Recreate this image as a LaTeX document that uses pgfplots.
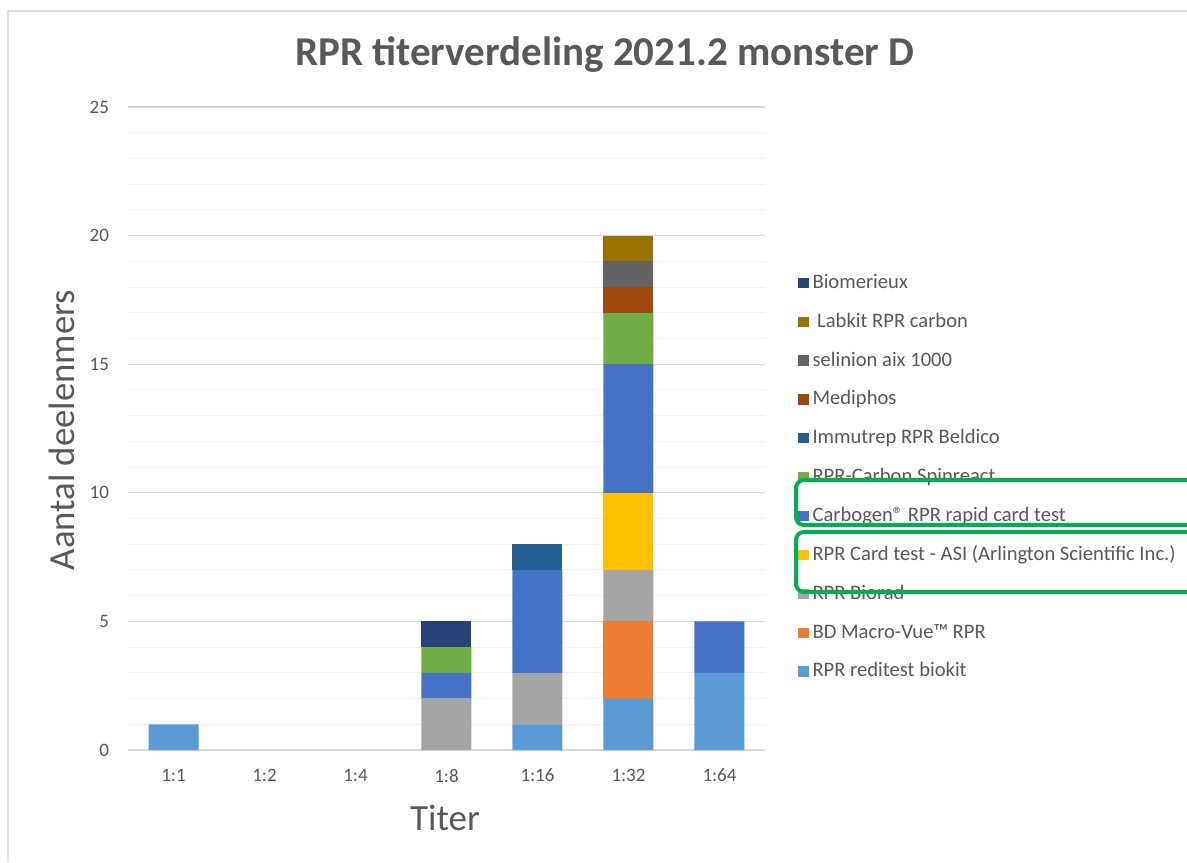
\documentclass[border=0pt]{standalone}
\usepackage{pgfplots}
\pgfplotsset{compat=1.18}
\usepackage{fontspec}
\setmainfont{Carlito}
\definecolor{cReditest}{HTML}{5B9BD5}
\definecolor{cBD}{HTML}{ED7D31}
\definecolor{cBiorad}{HTML}{A5A5A5}
\definecolor{cASI}{HTML}{FFC000}
\definecolor{cCarbogen}{HTML}{4472C4}
\definecolor{cSpin}{HTML}{70AD47}
\definecolor{cImmu}{HTML}{255E91}
\definecolor{cMedi}{HTML}{9E480E}
\definecolor{cSel}{HTML}{636363}
\definecolor{cLab}{HTML}{997300}
\definecolor{cBio}{HTML}{264478}
\definecolor{txtgray}{HTML}{595959}
\definecolor{gridmaj}{HTML}{D9D9D9}
\definecolor{gridmin}{HTML}{F0F0F0}
\definecolor{annot}{HTML}{00B050}
\begin{document}
\begin{tikzpicture}
\useasboundingbox (0pt,0pt) rectangle (593.5pt,431pt);
\fill[white] (0pt,0pt) rectangle (593.5pt,431pt);
\draw[gridmaj!80, line width=0.8pt] (4pt,0pt) -- (4pt,425.5pt) -- (600pt,425.5pt);
\begin{axis}[
  at={(64pt,56pt)}, anchor=south west,
  width=318.5pt, height=321.5pt, scale only axis,
  xmin=-0.5, xmax=6.5, ymin=0, ymax=25,
  ybar stacked, bar width=25pt,
  xtick={0,...,6},
  xticklabels={1:1,1:2,1:4,1:8,1:16,1:32,1:64},
  ytick={0,5,...,25},
  minor y tick num=4,
  ymajorgrids, yminorgrids,
  major grid style={draw=gridmaj, line width=0.6pt},
  minor grid style={draw=gridmin, line width=0.5pt},
  axis x line*=bottom, axis y line*=left,
  x axis line style={draw=gridmaj, line width=0.6pt, -},
  y axis line style={draw=none},
  tick style={draw=none},
  minor tick style={draw=none},
  /pgf/number format/assume math mode=true,
  ticklabel style={font=\fontsize{9.5}{11}\selectfont, text=txtgray},
  xticklabel style={yshift=-6pt},
  yticklabel style={xshift=-6pt},
  legend style={at={(1.042,0.7527)}, anchor=north west, draw=none, fill=none,
    font=\fontsize{10.3}{12}\selectfont, text=txtgray, row sep=6.75pt},
  legend cell align=left,
  reverse legend,
  mybar/.style={fill=#1, draw=none,
    legend image code/.code={\fill[fill=#1] (0pt,-2.6pt) rectangle (5.2pt,2.6pt);}},
]
\addplot[mybar=cReditest] coordinates {(0,1) (1,0) (2,0) (3,0) (4,1) (5,2) (6,3)};
\addlegendentry{RPR reditest biokit}
\addplot[mybar=cBD] coordinates {(0,0) (1,0) (2,0) (3,0) (4,0) (5,3) (6,0)};
\addlegendentry{BD Macro-Vue™ RPR}
\addplot[mybar=cBiorad] coordinates {(0,0) (1,0) (2,0) (3,2) (4,2) (5,2) (6,0)};
\addlegendentry{RPR Biorad}
\addplot[mybar=cASI] coordinates {(0,0) (1,0) (2,0) (3,0) (4,0) (5,3) (6,0)};
\addlegendentry{RPR Card test - ASI (Arlington Scientific Inc.)}
\addplot[mybar=cCarbogen] coordinates {(0,0) (1,0) (2,0) (3,1) (4,4) (5,5) (6,2)};
\addlegendentry{Carbogen® RPR rapid card test}
\addplot[mybar=cSpin] coordinates {(0,0) (1,0) (2,0) (3,1) (4,0) (5,2) (6,0)};
\addlegendentry{RPR-Carbon Spinreact}
\addplot[mybar=cImmu] coordinates {(0,0) (1,0) (2,0) (3,0) (4,1) (5,0) (6,0)};
\addlegendentry{Immutrep RPR Beldico}
\addplot[mybar=cMedi] coordinates {(0,0) (1,0) (2,0) (3,0) (4,0) (5,1) (6,0)};
\addlegendentry{Mediphos}
\addplot[mybar=cSel] coordinates {(0,0) (1,0) (2,0) (3,0) (4,0) (5,1) (6,0)};
\addlegendentry{selinion aix 1000}
\addplot[mybar=cLab] coordinates {(0,0) (1,0) (2,0) (3,0) (4,0) (5,1) (6,0)};
\addlegendentry{\ Labkit RPR carbon}
\addplot[mybar=cBio] coordinates {(0,0) (1,0) (2,0) (3,1) (4,0) (5,0) (6,0)};
\addlegendentry{Biomerieux}
\end{axis}
\node[font=\fontsize{20.5}{24}\selectfont\bfseries, text=txtgray] at (302.5pt,403.5pt) {RPR titerverdeling 2021.2 monster D};
\node[font=\fontsize{18.4}{22}\selectfont, text=txtgray, rotate=90] at (31pt,216pt) {Aantal deelenmers};
\node[font=\fontsize{18.5}{22}\selectfont, text=txtgray] at (222.5pt,22pt) {Titer};
\draw[annot, line width=2pt, rounded corners=4pt] (398pt,191pt) rectangle (610pt,168.5pt);
\draw[annot, line width=2pt, rounded corners=4pt] (398pt,165pt) rectangle (610pt,135pt);
\end{tikzpicture}
\end{document}
